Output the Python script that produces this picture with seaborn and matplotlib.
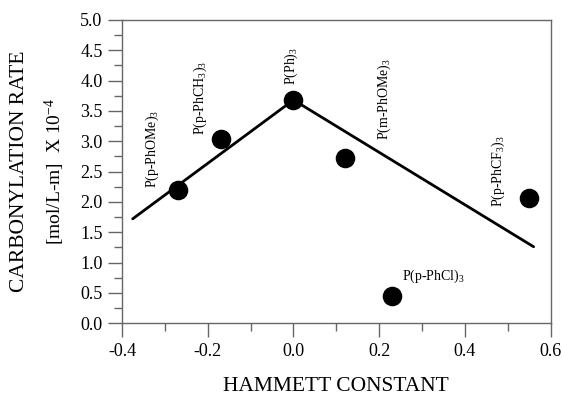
import matplotlib
matplotlib.use("Agg")
import matplotlib.pyplot as plt
import seaborn as sns
import pandas as pd
from matplotlib.ticker import MultipleLocator, FormatStrFormatter

# Data
ligands = ["P(p-PhOMe)$_3$", "P(p-PhCH$_3$)$_3$", "P(Ph)$_3$",
           "P(m-PhOMe)$_3$", "P(p-PhCl)$_3$", "P(p-PhCF$_3$)$_3$"]
hammett = [-0.27, -0.17, 0.00, 0.12, 0.23, 0.55]
rate = [2.19, 3.03, 3.68, 2.72, 0.45, 2.06]

fit_x = [-0.375, 0.0, 0.56]
fit_y = [1.72, 3.68, 1.26]

sns.set_theme(style="ticks")
plt.rcParams["font.family"] = ["Liberation Serif", "DejaVu Serif"]
plt.rcParams["mathtext.fontset"] = "custom"
plt.rcParams["mathtext.rm"] = "Liberation Serif"
plt.rcParams["mathtext.it"] = "Liberation Serif"
plt.rcParams["text.color"] = "black"
plt.rcParams["xtick.labelcolor"] = "black"
plt.rcParams["ytick.labelcolor"] = "black"

fig = plt.figure(figsize=(5.62, 3.98), dpi=100)
ax = fig.add_axes([0.217, 0.188, 0.763, 0.762])

pts = pd.DataFrame({"x": hammett, "y": rate, "lig": ligands})
fit = pd.DataFrame({"x": fit_x, "y": fit_y})

sns.lineplot(data=fit, x="x", y="y", ax=ax, color="black", lw=2, sort=False)
sns.scatterplot(data=pts, x="x", y="y", ax=ax, color="black", s=170,
                edgecolor="black", zorder=3)

ax.set_xlim(-0.4, 0.6)
ax.set_ylim(0, 5.0)
ax.xaxis.set_major_locator(MultipleLocator(0.2))
ax.xaxis.set_minor_locator(MultipleLocator(0.1))
ax.yaxis.set_major_locator(MultipleLocator(0.5))
ax.yaxis.set_minor_locator(MultipleLocator(0.25))
ax.xaxis.set_major_formatter(FormatStrFormatter("%.1f"))
ax.yaxis.set_major_formatter(FormatStrFormatter("%.1f"))
ax.tick_params(which="major", direction="out", length=10, width=1, color="#666",
               labelsize=13, pad=4, labelcolor="black")
ax.tick_params(which="minor", direction="out", length=6, width=1, color="#666")
for sp in ax.spines.values():
    sp.set_color("#666")
    sp.set_linewidth(1)
ax.set_xlabel("")
ax.set_ylabel("")

# Point labels (data coords)
lab_specs = [
    (ligands[0], -0.328, 2.23),
    (ligands[1], -0.218, 3.10),
    (ligands[2], -0.004, 3.93),
    (ligands[3], 0.211, 3.02),
    (ligands[5], 0.478, 1.91),
]
for txt, x, y in lab_specs:
    ax.text(x, y, txt, rotation=90, ha="center", va="bottom", fontsize=10)
ax.text(0.252, 0.72, ligands[4], ha="left", va="baseline", fontsize=10)

fig.text(0.035, 0.57, "CARBONYLATION RATE", rotation=90, ha="center",
         va="center", fontsize=15.5)
fig.text(0.097, 0.57, "[mol/L-m]  X 10$^{-4}$", rotation=90, ha="center",
         va="center", fontsize=14)
fig.text(0.598, 0.03, "HAMMETT CONSTANT", ha="center", va="center", fontsize=15.5)

fig.savefig("out.png", dpi=100)
